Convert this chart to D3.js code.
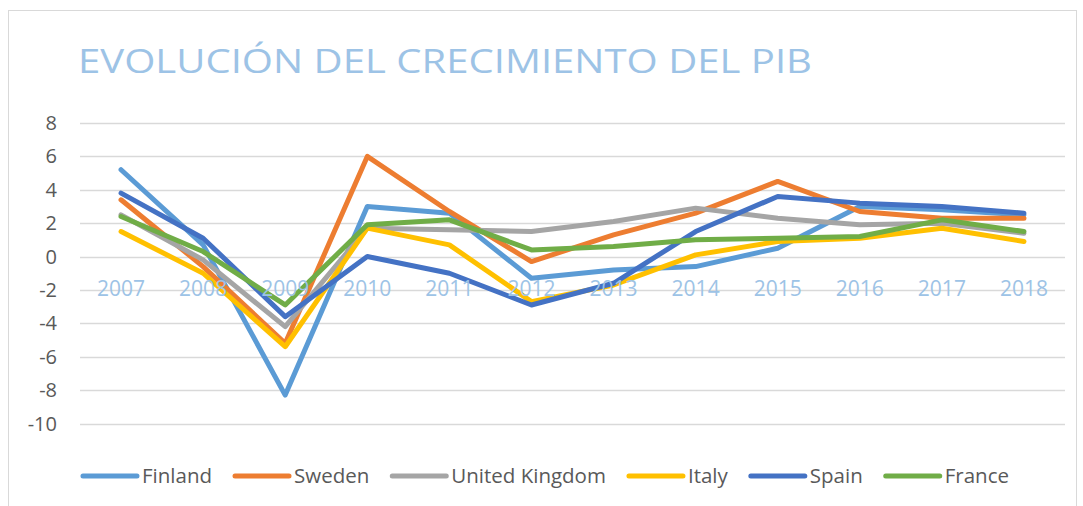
<!DOCTYPE html>
<html>
<head>
<meta charset="utf-8">
<script src="https://cdn.jsdelivr.net/npm/d3@7.9.0/dist/d3.min.js"></script>
<style>
  html, body { margin: 0; padding: 0; background: #fff; }
  svg { display: block; font-family: "Open Sans", "Noto Sans", sans-serif; }
</style>
</head>
<body>
<svg id="chart" width="1083" height="506"></svg>
<script>
const years = ['2007','2008','2009','2010','2011','2012','2013','2014','2015','2016','2017','2018'];
const yTicks = [8, 6, 4, 2, 0, -2, -4, -6, -8, -10];

const finland = [5.2, 0.7, -8.3, 3.0, 2.6, -1.3, -0.8, -0.6, 0.5, 3.0, 2.8, 2.5];
const sweden  = [3.4, -0.6, -5.2, 6.0, 2.7, -0.3, 1.3, 2.6, 4.5, 2.7, 2.3, 2.3];
const uk      = [2.5, -0.2, -4.2, 1.7, 1.6, 1.5, 2.1, 2.9, 2.3, 1.9, 2.0, 1.4];
const italy   = [1.5, -1.0, -5.4, 1.7, 0.7, -2.7, -1.7, 0.1, 0.9, 1.1, 1.7, 0.9];
const spain   = [3.8, 1.1, -3.6, 0.0, -1.0, -2.9, -1.6, 1.5, 3.6, 3.2, 3.0, 2.6];
const france  = [2.4, 0.3, -2.9, 1.9, 2.2, 0.4, 0.6, 1.0, 1.1, 1.2, 2.2, 1.5];

const seriesNames = ['Finland', 'Sweden', 'United Kingdom', 'Italy', 'Spain', 'France'];
const seriesValues = [finland, sweden, uk, italy, spain, france];
const colors = ['#5B9BD5', '#ED7D31', '#A5A5A5', '#FFC000', '#4472C4', '#70AD47'];

const svg = d3.select('#chart');

// chart frame
svg.append('rect')
  .attr('x', 8.5).attr('y', 10.5)
  .attr('width', 1068).attr('height', 520)
  .attr('fill', '#fff').attr('stroke', '#D9D9D9');

// title
svg.append('text')
  .attr('x', 78).attr('y', 73)
  .attr('font-size', 33)
  .attr('fill', '#9DC3E6')
  .attr('textLength', 734)
  .attr('lengthAdjust', 'spacingAndGlyphs')
  .text('EVOLUCIÓN DEL CRECIMIENTO DEL PIB');

const x = d3.scaleBand().domain(years).range([80, 1065]);
const y = d3.scaleLinear().domain([-10, 8]).range([423.5, 123]);

// gridlines
svg.append('g')
  .selectAll('line')
  .data(yTicks)
  .join('line')
  .attr('x1', 80).attr('x2', 1065)
  .attr('y1', d => Math.round(y(d)) + 0.5)
  .attr('y2', d => Math.round(y(d)) + 0.5)
  .attr('stroke', '#D9D9D9')
  .attr('stroke-width', 1.3);

// y labels
svg.append('g')
  .selectAll('text')
  .data(yTicks)
  .join('text')
  .attr('x', 57)
  .attr('y', d => y(d))
  .attr('dy', '0.35em')
  .attr('text-anchor', 'end')
  .attr('font-size', 20)
  .attr('fill', '#595959')
  .text(d => d);

// lines
const line = d3.line()
  .x((d, i) => x(years[i]) + x.bandwidth() / 2)
  .y(d => y(d));

svg.append('g')
  .selectAll('path')
  .data(seriesValues)
  .join('path')
  .attr('d', d => line(d))
  .attr('fill', 'none')
  .attr('stroke', (d, i) => colors[i])
  .attr('stroke-width', 5)
  .attr('stroke-linejoin', 'round')
  .attr('stroke-linecap', 'round');

// category labels (sit just below the zero line, over the plot)
svg.append('g')
  .selectAll('text')
  .data(years)
  .join('text')
  .attr('x', d => x(d) + x.bandwidth() / 2)
  .attr('y', y(0) + 39)
  .attr('text-anchor', 'middle')
  .attr('font-size', 21)
  .attr('fill', '#9DC3E6')
  .text(d => d);

// legend
const legend = svg.append('g');
const items = seriesNames.map((name, i) => {
  const g = legend.append('g');
  g.append('line')
    .attr('x1', 0).attr('x2', 54)
    .attr('y1', 0).attr('y2', 0)
    .attr('stroke', colors[i])
    .attr('stroke-width', 5)
    .attr('stroke-linecap', 'round');
  const t = g.append('text')
    .attr('x', 59).attr('y', 7)
    .attr('font-size', 20.5)
    .attr('fill', '#595959')
    .text(name);
  return { g, w: 59 + t.node().getComputedTextLength() };
});
const gap = 23;
const total = d3.sum(items, d => d.w) + gap * (items.length - 1);
let lx = 546 - total / 2;
items.forEach(it => {
  it.g.attr('transform', `translate(${lx},476)`);
  lx += it.w + gap;
});
</script>
</body>
</html>
